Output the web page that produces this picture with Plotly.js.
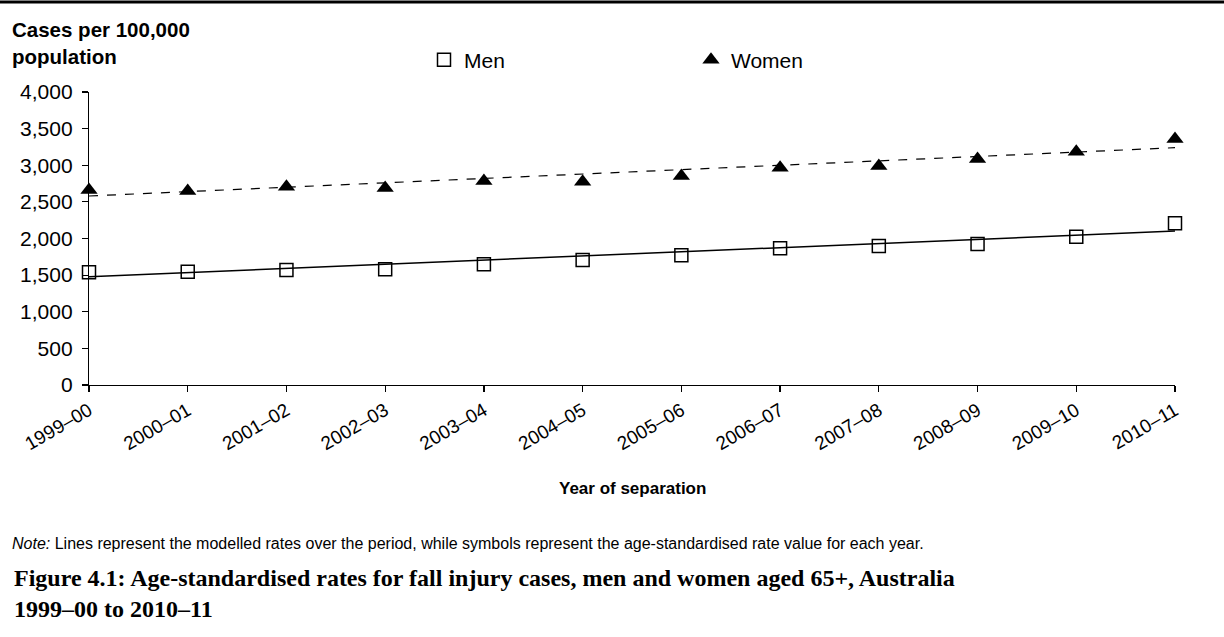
<!DOCTYPE html>
<html>
<head>
<meta charset="utf-8">
<script src="https://cdn.plot.ly/plotly-3.0.1.min.js"></script>
<style>html,body{margin:0;padding:0;background:#fff;}#chart{width:1224px;height:637px;}</style>
</head>
<body>
<div id="chart"></div>
<script>
const years = ['1999–00','2000–01','2001–02','2002–03','2003–04','2004–05','2005–06','2006–07','2007–08','2008–09','2009–10','2010–11'];
const menRates = [1538, 1547, 1570, 1579, 1648, 1706, 1770, 1866, 1898, 1925, 2025, 2207];
const womenRates = [2662, 2650, 2707, 2690, 2785, 2775, 2853, 2967, 2990, 3085, 3185, 3358];
const modelYears = ['1999–00', '2010–11'];
const menModel = [1479, 2102];
const womenModel = [2580, 3240];
const yTicks = [0, 500, 1000, 1500, 2000, 2500, 3000, 3500, 4000];

const FONT = 'Liberation Sans, Arial, sans-serif';

const traces = [
  {x: years, y: menRates, name: 'Men', mode: 'markers', cliponaxis: false,
   marker: {symbol: 'square-open', size: 13, color: '#000', line: {color: '#000', width: 1.5}}},
  {x: years, y: womenRates, name: 'Women', mode: 'markers', cliponaxis: false,
   marker: {symbol: 'triangle-up', size: 15, color: '#000'}},
  {x: modelYears, y: menModel, mode: 'lines', line: {color: '#000', width: 1.5}, showlegend: false, hoverinfo: 'skip', cliponaxis: false},
  {x: modelYears, y: womenModel, mode: 'lines', line: {color: '#000', width: 1.2, dash: 'dash'}, showlegend: false, hoverinfo: 'skip', cliponaxis: false}
];

const W = 1086, H = 293, L = 89, T = 92;
const px = v => (v - L) / W;
const py = v => (T + H - v) / H;

const layout = {
  width: 1224, height: 637,
  margin: {l: L, r: 1224 - L - W, t: T, b: 637 - T - H},
  paper_bgcolor: '#fff', plot_bgcolor: '#fff',
  font: {family: FONT, size: 18, color: '#000'},
  showlegend: true,
  legend: {orientation: 'h', x: px(424), y: py(60), xanchor: 'left', yanchor: 'middle',
           font: {family: FONT, size: 21, color: '#000'}, entrywidth: 222, entrywidthmode: 'pixels',
           itemwidth: 30, bgcolor: 'rgba(0,0,0,0)', tracegroupgap: 0},
  xaxis: {type: 'category', categoryorder: 'array', categoryarray: years, range: [0, 11],
          showgrid: false, zeroline: false,
          showline: true, linecolor: '#000', linewidth: 1.2,
          ticks: 'outside', ticklen: 6, tickcolor: '#000', tickwidth: 1.2,
          tickangle: -30, tickfont: {family: FONT, size: 19, color: '#000'},
          automargin: false},
  yaxis: {range: [0, 4000], tickvals: yTicks, ticktext: yTicks.map(v => v.toLocaleString('en-US')),
          showgrid: false, zeroline: false, showline: true, linecolor: '#000', linewidth: 1.2,
          ticks: 'outside', ticklen: 6, tickcolor: '#000', tickwidth: 1.2, ticklabelstandoff: 5,
          tickfont: {family: FONT, size: 21, color: '#000'}, automargin: false},
  shapes: [
    {type: 'line', xref: 'paper', yref: 'paper', x0: px(0), x1: px(1224), y0: py(2), y1: py(2), line: {color: '#000', width: 3}}
  ],
  annotations: [
    {xref: 'paper', yref: 'paper', x: px(10), y: py(43), xanchor: 'left', yanchor: 'middle', align: 'left', showarrow: false,
     text: '<b>Cases per 100,000<br>population</b>', font: {family: FONT, size: 20.5, color: '#000'}},
    {xref: 'paper', yref: 'paper', x: px(632), y: py(488), xanchor: 'center', yanchor: 'middle', showarrow: false,
     text: '<b>Year of separation</b>', font: {family: FONT, size: 17, color: '#000'}},
    {xref: 'paper', yref: 'paper', x: px(10), y: py(543), xanchor: 'left', yanchor: 'middle', showarrow: false,
     text: '<i>Note:</i> Lines represent the modelled rates over the period, while symbols represent the age-standardised rate value for each year.',
     font: {family: FONT, size: 16, color: '#000'}},
    {xref: 'paper', yref: 'paper', x: px(12), y: py(593), xanchor: 'left', yanchor: 'middle', align: 'left', showarrow: false,
     text: '<b>Figure 4.1: Age-standardised rates for fall injury cases, men and women aged 65+, Australia<br>1999–00 to 2010–11</b>',
     font: {family: 'Liberation Serif, serif', size: 24, color: '#000'}}
  ]
};

Plotly.newPlot('chart', traces, layout, {displayModeBar: false, staticPlot: true});
</script>
</body>
</html>
